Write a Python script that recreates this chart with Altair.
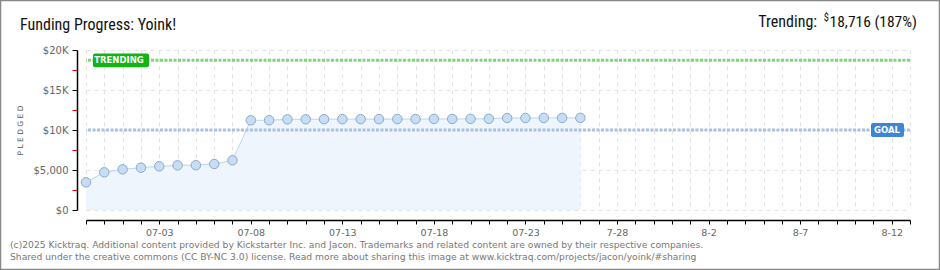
import json
import altair as alt
import pandas as pd

# ---------------- data ----------------
start_date = "2025-06-29"
end_day = 45
dates = [
    "2025-06-29", "2025-06-30", "2025-07-01", "2025-07-02", "2025-07-03",
    "2025-07-04", "2025-07-05", "2025-07-06", "2025-07-07", "2025-07-08",
    "2025-07-09", "2025-07-10", "2025-07-11", "2025-07-12", "2025-07-13",
    "2025-07-14", "2025-07-15", "2025-07-16", "2025-07-17", "2025-07-18",
    "2025-07-19", "2025-07-20", "2025-07-21", "2025-07-22", "2025-07-23",
    "2025-07-24", "2025-07-25", "2025-07-26",
]
pledged = [
    3460, 4710, 5080, 5290, 5460, 5580, 5600, 5750, 6210, 11210,
    11220, 11330, 11340, 11350, 11350, 11360, 11360, 11370, 11370, 11380,
    11380, 11390, 11400, 11500, 11500, 11510, 11510, 11520,
]
goal = 10000
trending = 18716
trending_pct = 187

tick_label_days = [4, 9, 14, 19, 24, 29, 34, 39, 44]
tick_label_texts = ["07-03", "07-08", "07-13", "07-18", "07-23", "7-28", "8-2", "8-7", "8-12"]

y_ticks = [0, 2500, 5000, 7500, 10000, 12500, 15000, 17500, 20000]

title_text = "Funding Progress: Yoink!"
footer_line1 = "(c)2025 Kicktraq. Additional content provided by Kickstarter Inc. and Jacon. Trademarks and related content are owned by their respective companies."
footer_line2 = "Shared under the creative commons (CC BY-NC 3.0) license. Read more about sharing this image at www.kicktraq.com/projects/jacon/yoink/#sharing"

# ---------------- build ----------------
t0 = pd.Timestamp(start_date)
df = pd.DataFrame({
    "day": [(pd.Timestamp(d) - t0).days for d in dates],
    "pledged": pledged,
})

label_arr = [""] * (end_day + 1)
for d, t in zip(tick_label_days, tick_label_texts):
    label_arr[d] = t
label_expr = json.dumps(label_arr) + "[datum.value]"

W, H = 824, 160
PAD = {"left": 86, "top": 50, "right": 30, "bottom": 60}

xscale = alt.Scale(domain=[0, end_day], nice=False, zero=False)
yscale = alt.Scale(domain=[0, 20000], nice=False)

x_axis = alt.Axis(
    values=list(range(end_day + 1)), labelExpr=label_expr, title=None,
    offset=10, tickSize=4, tickColor="#000", domainColor="#000", domainWidth=1.5,
    labelColor="#666", labelFont="DejaVu Sans", labelFontSize=9.5, labelPadding=3,
    grid=True, gridColor="#e2e2e2", gridDash=[4, 4], labelOverlap=False,
)
y_label_expr = (
    "datum.value == 0 ? '$0' : datum.value == 5000 ? '$5,000' : "
    "datum.value % 5000 == 0 ? '$' + (datum.value/1000) + 'K' : ''"
)
y_axis = alt.Axis(
    values=y_ticks, labelExpr=y_label_expr, title="P L E D G E D",
    offset=9, tickSize=5, domainColor="#000", domainWidth=1.5,
    tickColor={"condition": {"test": "datum.value % 5000 === 0", "value": "#000"}, "value": "#e00000"},
    gridOpacity={"condition": {"test": "datum.value % 5000 === 0", "value": 1}, "value": 0},
    labelColor="#666", labelFont="DejaVu Sans", labelFontSize=10, labelPadding=4,
    grid=True, gridColor="#e2e2e2", gridDash=[4, 4],
    titleFont="DejaVu Sans", titleFontSize=7.5, titleColor="#555", titleFontWeight="normal",
    titleX=-57, titleY=80, titleAngle=-90, titleAlign="center", titleBaseline="middle",
)

X = alt.X("day:Q", scale=xscale, axis=x_axis)
Y = alt.Y("pledged:Q", scale=yscale, axis=y_axis)

base = alt.Chart(df)

area = base.mark_area(color="#eef5fd", opacity=1).encode(x=X, y=Y)
line = base.mark_line(color="#b9d7f4", strokeWidth=1).encode(x=X, y=Y)
points = base.mark_point(
    filled=True, fill="#c6ddf6", stroke="#8ea8c8", strokeWidth=1, size=90, opacity=1
).encode(x=X, y=Y)

goal_rule = alt.Chart(pd.DataFrame({"pledged": [goal]})).mark_rule(
    color="#a6c2e4", strokeWidth=3, strokeDash=[3, 1.5]
).encode(y=Y)
trend_rule = alt.Chart(pd.DataFrame({"pledged": [trending]})).mark_rule(
    color="#80d47c", strokeWidth=3, strokeDash=[3, 1.5]
).encode(y=Y)

half = 860
trend_box = alt.Chart(pd.DataFrame({"v": [trending]})).transform_calculate(
    pledged=f"datum.v + {half}", bot=f"datum.v - {half}"
).mark_rect(color="#12b312", cornerRadius=2).encode(
    x=alt.value(7), x2=alt.value(63), y=Y, y2="bot:Q",
)
trend_txt = alt.Chart(pd.DataFrame({"pledged": [trending], "t": ["TRENDING"]})).mark_text(
    color="white", font="DejaVu Sans", fontSize=8.5, fontWeight="bold", baseline="middle", align="center"
).encode(x=alt.value(33), y=Y, text="t:N")

goal_box = alt.Chart(pd.DataFrame({"v": [goal]})).transform_calculate(
    pledged=f"datum.v + {half}", bot=f"datum.v - {half}"
).mark_rect(color="#3d86d6", cornerRadius=2).encode(
    x=alt.value(785), x2=alt.value(818), y=Y, y2="bot:Q",
)
goal_txt = alt.Chart(pd.DataFrame({"pledged": [goal], "t": ["GOAL"]})).mark_text(
    color="white", font="DejaVu Sans", fontSize=8.5, fontWeight="bold", baseline="middle", align="center"
).encode(x=alt.value(801), y=Y, text="t:N")

TF = "Liberation Sans Narrow, Roboto Condensed, DejaVu Sans Condensed, Roboto"


def label(text, x, y, size, color="#111", align="left", font=TF):
    return alt.Chart(pd.DataFrame({"t": [text]})).mark_text(
        font=font, fontSize=size, color=color, align=align, baseline="alphabetic"
    ).encode(x=alt.value(x), y=alt.value(y), text="t:N")


title = label(title_text, -66, -20, 16)
right_main = label(f"{trending:,} ({trending_pct}%)", 831, -23, 15.5, align="right")
right_dollar = label("$", 743, -29, 10.5, align="right")
right_label = label("Trending:", 731, -23, 16, align="right")
foot1 = label(footer_line1, -76, 198, 9.2, color="#777", font="DejaVu Sans")
foot2 = label(footer_line2, -76, 210, 9.2, color="#777", font="DejaVu Sans")

frame = alt.Chart(pd.DataFrame({"a": [0]})).mark_rect(
    fill=None, stroke="#888", strokeWidth=1.5, fillOpacity=0
).encode(x=alt.value(-85.5), x2=alt.value(853.5), y=alt.value(-49.5), y2=alt.value(219.5))

chart = alt.layer(
    area, line, goal_rule, trend_rule, points,
    trend_box, trend_txt, goal_box, goal_txt,
    title, right_label, right_dollar, right_main, foot1, foot2, frame,
).properties(
    width=W, height=H, autosize=alt.AutoSizeParams(type="none"), padding=PAD,
    background="white",
).configure_view(stroke=None)

chart.save("out.html", embed_options={"renderer": "svg", "actions": False})
